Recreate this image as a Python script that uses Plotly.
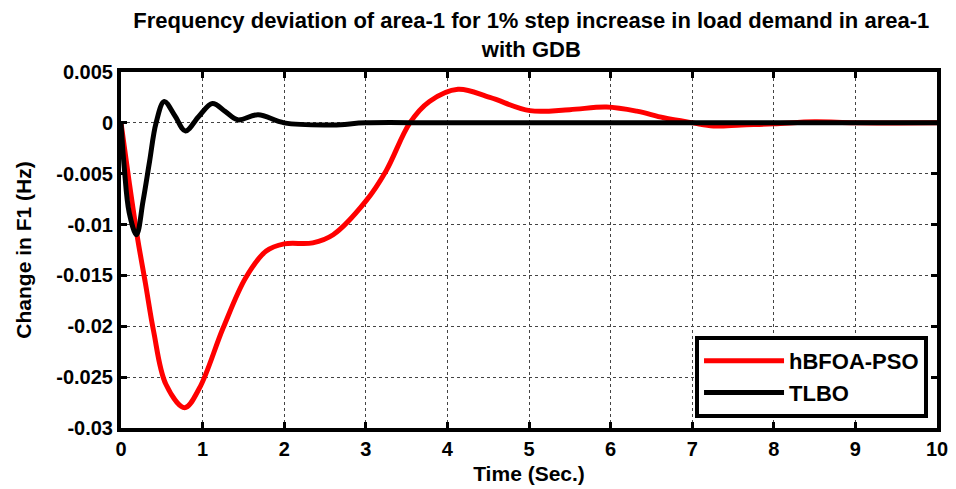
import plotly.graph_objects as go

# hBFOA-PSO series
t_pso = [0, 0.1, 0.2, 0.3, 0.4, 0.55, 0.78, 0.96, 1.25, 1.53, 1.78, 2.0, 2.35, 2.6, 3.0,
         3.25, 3.54, 3.78, 4.13, 4.52, 5.01, 5.5, 5.95, 6.32, 6.65, 7.01, 7.26, 7.6, 8.0, 8.5, 9.0, 10]
f_pso = [0, -0.0058, -0.0112, -0.0158, -0.0205, -0.0257, -0.0280, -0.0261, -0.0202,
         -0.0152, -0.0126, -0.0119, -0.0118, -0.0110, -0.0077, -0.0047, 0, 0.0021, 0.0033, 0.0025,
         0.0012, 0.0013, 0.00155, 0.00115, 0.0005, 0, -0.0003, -0.0002, -0.0001, 0.0001, 0, 0]

# TLBO series
t_tlbo = [0, 0.04, 0.1, 0.19, 0.27, 0.35, 0.43, 0.53, 0.66, 0.79, 0.95, 1.12, 1.28, 1.43, 1.68, 2.0,
          2.6, 3.0, 4.0, 10]
f_tlbo = [0, -0.0044, -0.0088, -0.0110, -0.0077, -0.0038, 0, 0.0021, 0.0007, -0.0008, 0.0006, 0.0019,
          0.0011, 0.0003, 0.0008, 0, -0.0002, 0, 0, 0]

x_ticks = [0, 1, 2, 3, 4, 5, 6, 7, 8, 9, 10]
y_ticks = [0.005, 0, -0.005, -0.01, -0.015, -0.02, -0.025, -0.03]
y_labels = ["0.005", "0", "-0.005", "-0.01", "-0.015", "-0.02", "-0.025", "-0.03"]

FONT = "Liberation Sans, Arial, sans-serif"

fig = go.Figure()
fig.add_trace(go.Scatter(x=t_pso, y=f_pso, mode="lines", name="hBFOA-PSO",
                         line=dict(color="#ff0000", width=5, shape="spline", smoothing=1.0)))
fig.add_trace(go.Scatter(x=t_tlbo, y=f_tlbo, mode="lines", name="TLBO",
                         line=dict(color="black", width=5, shape="spline", smoothing=1.0)))

axis_common = dict(showline=True, linecolor="black", linewidth=4, mirror="ticks",
                   ticks="inside", ticklen=6, tickwidth=3, tickcolor="black",
                   showgrid=True, gridcolor="#444444", gridwidth=1, griddash="dot",
                   zeroline=False, automargin=False,
                   tickfont=dict(family=FONT, size=20, color="black", weight="bold"))

# the page body adds an 8px offset, so the figure is 8px smaller and margins are shifted
fig.update_layout(
    width=948, height=481,
    margin=dict(l=113, r=19, t=64, b=61),
    paper_bgcolor="white", plot_bgcolor="white",
    title=dict(text="<b>Frequency deviation of area-1 for 1% step increase in load demand in area-1<br>with GDB</b>",
               x=0.552, xanchor="center", y=0.958, yanchor="top",
               font=dict(family=FONT, size=22, color="black")),
    xaxis=dict(range=[0, 10], tickvals=x_ticks,
               title=dict(text="<b>Time (Sec.)</b>", font=dict(family=FONT, size=21, color="black"), standoff=8),
               **axis_common),
    yaxis=dict(range=[-0.03, 0.005], tickvals=y_ticks, ticktext=y_labels,
               title=dict(text="<b>Change in F1 (Hz)</b>", font=dict(family=FONT, size=21, color="black"), standoff=20),
               **axis_common),
    legend=dict(x=0.989, xanchor="right", y=0.028, yanchor="bottom",
                bgcolor="white", bordercolor="black", borderwidth=4,
                font=dict(family=FONT, size=22, color="black", weight="bold"),
                itemwidth=80, tracegroupgap=0),
    showlegend=True,
)

fig.write_html("out.html")
